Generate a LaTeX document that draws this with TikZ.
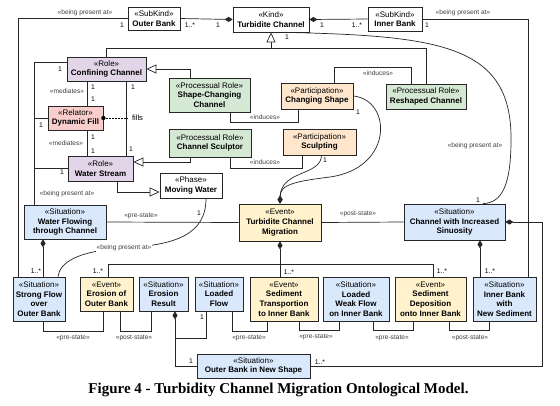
\documentclass[tikz,border=0pt]{standalone}
\usepackage{fontspec}
\setmainfont{Liberation Serif}
\newfontfamily\lsans{Liberation Sans}
\usetikzlibrary{arrows.meta,shadows,calc}
\definecolor{cRole}{HTML}{E1D5E7}
\definecolor{cRel}{HTML}{F8CECC}
\definecolor{cProc}{HTML}{D5E8D4}
\definecolor{cPart}{HTML}{FFE6CC}
\definecolor{cEvt}{HTML}{FFF2CC}
\definecolor{cSit}{HTML}{DAE8FC}
\begin{document}
\begin{tikzpicture}[x=1pt,y=-1pt,
  box/.style={draw=black!85, line width=0.8pt, rectangle, align=center, inner sep=1pt,
    font=\lsans\fontsize{8}{9.6}\selectfont,
    drop shadow={shadow xshift=1pt, shadow yshift=-1pt, opacity=0.3}},
  conn/.style={draw=black!85, line width=0.7pt},
  dia/.style={-{Diamond[length=8pt,width=5pt]}},
  aid/.style={{Diamond[length=8pt,width=5pt]}-},
  gen/.style={-{Triangle[length=10pt,width=9pt,fill=white]}},
  lab/.style={font=\lsans\fontsize{6.8}{7}\selectfont, inner sep=0.5pt, text=black},
  stl/.style={font=\lsans\fontsize{6.6}{7}\selectfont, inner sep=0.5pt, text=black!75}
]
\useasboundingbox (0,0) rectangle (560,405);
\fill[white] (0,0) rectangle (560,405);

% ---- nodes
\node[box,fill=white,minimum width=52pt,minimum height=23pt] (ob) at (154,18.5) {«SubKind»\\\textbf{Outer Bank}};
\node[box,fill=white,minimum width=76pt,minimum height=25pt] (tc) at (271,19.5) {«Kind»\\\textbf{Turbidite Channel}};
\node[box,fill=white,minimum width=54pt,minimum height=24pt] (ib) at (395,19) {«SubKind»\\\textbf{Inner Bank}};
\node[box,fill=cRole,minimum width=79pt,minimum height=24pt] (cc) at (106.5,69) {«Role»\\\textbf{Confining Channel}};
\node[box,fill=cProc,minimum width=81pt,minimum height=34pt] (scc) at (209.5,95) {«Processual Role»\\\textbf{Shape-Changing}\\\textbf{Channel}};
\node[box,fill=cPart,minimum width=72pt,minimum height=26pt] (cs) at (317,96) {«Participation»\\\textbf{Changing Shape}};
\node[box,fill=cProc,minimum width=80pt,minimum height=25pt] (rc) at (426,96.5) {«Processual Role»\\\textbf{Reshaped Channel}};
\node[box,fill=cRel,minimum width=55pt,minimum height=24pt] (df) at (75.5,118) {«Relator»\\\textbf{Dynamic Fill}};
\node[box,fill=cProc,minimum width=82pt,minimum height=28pt] (csc) at (210,143) {«Processual Role»\\\textbf{Channel Sculptor}};
\node[box,fill=cPart,minimum width=73pt,minimum height=26pt] (sc) at (319.5,142) {«Participation»\\\textbf{Sculpting}};
\node[box,fill=cRole,minimum width=65pt,minimum height=25pt] (ws) at (100.5,168.5) {«Role»\\\textbf{Water Stream}};
\node[box,fill=white,minimum width=62pt,minimum height=25pt] (mw) at (191,185.5) {«Phase»\\\textbf{Moving Water}};
\node[box,fill=cSit,minimum width=82pt,minimum height=34pt] (wf) at (65,222) {«Situation»\\\textbf{Water Flowing}\\\textbf{through Channel}};
\node[box,fill=cEvt,minimum width=82pt,minimum height=37pt] (tcm) at (280,222.5) {«Event»\\\textbf{Turbidite Channel}\\\textbf{Migration}};
\node[box,fill=cSit,minimum width=101pt,minimum height=36pt] (cis) at (454.5,222) {«Situation»\\\textbf{Channel with Increased}\\\textbf{Sinuosity}};
\node[box,fill=cSit,minimum width=52pt,minimum height=44pt] (sf) at (39,299) {«Situation»\\\textbf{Strong Flow}\\\textbf{over}\\\textbf{Outer Bank}};
\node[box,fill=cEvt,minimum width=53pt,minimum height=34pt] (eo) at (106.5,294) {«Event»\\\textbf{Erosion of}\\\textbf{Outer Bank}};
\node[box,fill=cSit,minimum width=49pt,minimum height=34pt] (er) at (163.5,294) {«Situation»\\\textbf{Erosion}\\\textbf{Result}};
\node[box,fill=cSit,minimum width=48pt,minimum height=34pt] (lf) at (219,294) {«Situation»\\\textbf{Loaded}\\\textbf{Flow}};
\node[box,fill=cEvt,minimum width=68pt,minimum height=44pt] (st) at (284,299) {«Event»\\\textbf{Sediment}\\\textbf{Transportion}\\\textbf{to Inner Bank}};
\node[box,fill=cSit,minimum width=66pt,minimum height=44pt] (lw) at (356,299) {«Situation»\\\textbf{Loaded}\\\textbf{Weak Flow}\\\textbf{on Inner Bank}};
\node[box,fill=cEvt,minimum width=71pt,minimum height=44pt] (sd) at (430.5,299) {«Event»\\\textbf{Sediment}\\\textbf{Deposition}\\\textbf{onto Inner Bank}};
\node[box,fill=cSit,minimum width=63pt,minimum height=44pt] (in) at (504.5,299) {«Situation»\\\textbf{Inner Bank}\\\textbf{with}\\\textbf{New Sediment}};
\node[box,fill=cSit,minimum width=113pt,minimum height=24pt] (on) at (253.5,366) {«Situation»\\\textbf{Outer Bank in New Shape}};

% ---- top connectors
\draw[conn,dia] (ob.east) -- (tc.west);
\node[lab] at (190,25) {1..*};
\node[lab] at (218,25) {1};
\draw[conn,aid] (tc.east) -- (ib.west);
\node[lab] at (322,25) {1};
\node[lab] at (357,25) {1..*};

\coordinate (g) at ([yshift=-16pt]tc.south);
\draw[conn,gen] (cc.north) |- (g) -- (tc.south);
\draw[conn] (rc.north) |- (g);

\draw[conn] (ob.west) -| ([xshift=-21pt]sf.north);
\node[stl] at (85,13) {«being present at»};
\node[lab] at (122,25) {1};
\draw[conn] (ib.east) -| ([xshift=23.5pt]in.north);
\node[stl] at (463,13) {«being present at»};
\node[lab] at (427,25) {1};

\draw[conn] ([xshift=16pt]tc.south) .. controls (440,36) and (512,45) .. (511,140)
  .. controls (511,185) and (502,203) .. ([xshift=28.5pt]cis.north);
\node[lab] at (287,37) {1};
\node[stl] at (475,146) {«being present at»};
\node[lab] at (478,200) {1};

% ---- roles
\draw[conn,gen] ([xshift=-19.5pt]scc.north) |- (cc.east);
\draw[conn] ([xshift=17pt]cs.north) -- ++(0,-15) -| ([xshift=-15pt]rc.north);
\node[stl] at (378,73) {«induces»};
\draw[conn] ([xshift=20.5pt]scc.south) -- ++(0,10) -| ([xshift=-19pt]cs.south);
\node[stl] at (265,117) {«induces»};
\draw[conn,gen] ([xshift=-20pt]csc.south) |- ([yshift=6.5pt]ws.east);
\draw[conn] ([xshift=20pt]csc.south) -- ++(0,11) -| ([xshift=-17.5pt]sc.south);
\node[stl] at (265,162) {«induces»};
\draw[conn,gen] ([xshift=16.5pt]ws.south) |- ([yshift=-6.5pt]mw.west);

\draw[conn] ([xshift=-19.5pt]cc.south) -- ([xshift=11.5pt]df.north);
\node[lab] at (93,87) {1};
\node[lab] at (93,99) {1};
\node[stl] at (67,91) {«mediates»};
\draw[conn] ([xshift=11.5pt]df.south) -- ([xshift=-13.5pt]ws.north);
\node[lab] at (93,137) {1};
\node[lab] at (93,151) {1};
\node[stl] at (66,143) {«mediates»};
\draw[conn] ([xshift=19.5pt]cc.south) -- ([xshift=25.5pt]ws.north);
\node[lab] at (133,87) {1};
\node[lab] at (131,149) {1};

\draw[black, line width=0.8pt, dash pattern=on 1.5pt off 1.5pt] (df.east) -- ++(25,0) coordinate (fl);
\fill[black] (df.east) circle (2.2pt);
\node[lab,anchor=west,font=\lsans\fontsize{7.5}{8}\selectfont] at ([xshift=3pt]fl) {fills};

\coordinate (lv) at ([xshift=-31pt]wf.north);
\draw[conn] ([yshift=7pt]cc.west) -| (lv);
\draw[conn] (df.west) -- (df.west -| lv);
\draw[conn] (ws.west) -- (ws.west -| lv);
\node[lab] at (60,69) {1};
\node[lab] at (41,125) {1};
\node[lab] at (62,172) {1};
\node[stl] at (67,194) {«being present at»};

% ---- participations to migration
\draw[conn,dia] (cs.east) .. controls (392,100) and (394,168) .. (330,177)
  .. controls (298,181) and (280,184) .. (tcm.north);
\draw[conn,dia] ([xshift=2pt]sc.south) .. controls (321,176) and (281,170) .. (tcm.north);
\node[lab] at (358,112) {1};
\node[lab] at (325,160) {1};

\draw[conn] ([xshift=15pt]mw.south) .. controls (206,235) and (175,245) .. (124,248)
  .. controls (78,251) and (60,262) .. ([xshift=19pt]sf.north);
\node[stl,fill=white] at (124,248) {«being present at»};
\node[lab] at (199,213) {1};

% ---- situations / events
\draw[conn,aid] ([xshift=-22pt]wf.south) -- ([xshift=4pt]sf.north);
\node[lab] at (36,271) {1..*};
\draw[conn] (wf.east) -- (tcm.west);
\node[stl] at (141,216) {«pre-state»};
\draw[conn] (tcm.east) -- (cis.west);
\node[stl] at (358,214) {«post-state»};

\draw[conn] ([xshift=1.5pt]eo.north) -- ++(0,-12) -| ([xshift=2.5pt]sd.north);
\draw[conn,aid] (tcm.south) -- ([xshift=-4pt]st.north);
\node[lab] at (98,271) {1..*};
\node[lab] at (289,272) {1..*};
\node[lab] at (442,271) {1..*};

\draw[conn,aid] ([xshift=25.5pt]cis.south) -- ([xshift=-24.5pt]in.north);
\node[lab] at (490,271) {1..*};
\draw[conn,aid] (cis.east) -- ++(37,0) |- (on.east);
\node[lab] at (320,362) {1..*};

\draw[conn,aid] ([xshift=11.5pt]er.south) |- (on.west);
\node[lab] at (191,361) {1};
\draw[conn] ([xshift=-13pt]lf.south) -- ++(0,27) -| ([xshift=11.5pt,yshift=-27pt]er.south);
\node[lab] at (202,317) {1};

% ---- bottom state links
\draw[conn] ([xshift=4pt]sf.south) -- ++(0,10) -| ([xshift=-3.5pt]eo.south);
\node[stl] at (73,338) {«pre-state»};
\draw[conn] ([xshift=13.5pt]eo.south) -- ++(0,20) -| ([xshift=-12.5pt]er.south);
\node[stl] at (134,338) {«post-state»};
\draw[conn] ([xshift=13pt]lf.south) -- ++(0,20) -| ([xshift=-17pt]st.south);
\node[stl] at (249,338) {«pre-state»};
\draw[conn] ([xshift=15pt]st.south) -- ++(0,9) -| ([xshift=-17pt]lw.south);
\node[stl] at (316,337) {«pre-state»};
\draw[conn] ([xshift=17pt]lw.south) -- ++(0,9) -| ([xshift=-17.5pt]sd.south);
\node[stl] at (392,338) {«pre-state»};
\draw[conn] ([xshift=18.5pt]sd.south) -- ++(0,9) -| ([xshift=-15.5pt]in.south);
\node[stl] at (470,338) {«post-state»};

% ---- caption
\node[font=\bfseries\fontsize{15}{17}\selectfont, inner sep=0pt] (cap) at (278.5,390) {Figure 4 - Turbidity Channel Migration Ontological Model.};
\end{tikzpicture}
\end{document}
